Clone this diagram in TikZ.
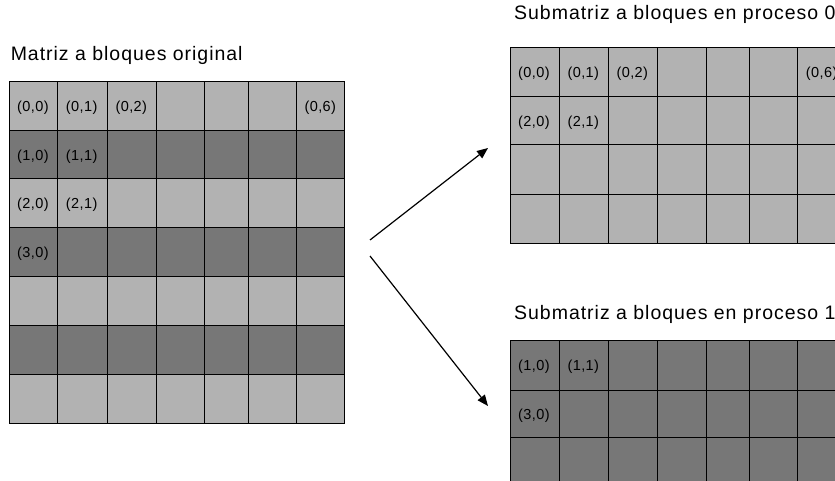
\documentclass[tikz,border=0pt]{standalone}
\usepackage{fontspec}
\setmainfont{Liberation Sans}
\newfontfamily\titlefont[LetterSpace=5]{Liberation Sans}
\newfontfamily\cellfont[LetterSpace=3]{Liberation Sans}
\usetikzlibrary{arrows.meta}
\definecolor{blocklight}{RGB}{178,178,178}
\definecolor{blockdark}{RGB}{119,119,119}

\begin{document}
\begin{tikzpicture}[x=1pt,y=-1pt,
  title/.style={anchor=base west,inner sep=0pt,font=\titlefont\fontsize{19.5}{22}\selectfont},
  celltext/.style={anchor=base west,inner sep=0pt,font=\cellfont\fontsize{14.5}{16}\selectfont},
  gridline/.style={draw=black,line width=1pt},
  flow/.style={line width=1.2pt,-{Triangle[length=11pt,width=9pt]}}]
\useasboundingbox (0,0) rectangle (835,481);
\clip (0,0) rectangle (835,481);

% ---- original block matrix (7 x 7) ----
\node[title] (origtitle) at (10.6,60.5) {Matriz a bloques original};
\foreach \ya/\yb/\c in {81.7/130.3/blocklight, 130.3/179/blockdark,
    179/227.7/blocklight, 227.7/276.3/blockdark, 276.3/325/blocklight,
    325/374/blockdark, 374/423/blocklight}
  \foreach \xa/\xb in {9/57.7, 57.7/107.3, 107.3/156, 156/204.7,
      204.7/248, 248/296.3, 296.3/344.3}
    \filldraw[fill=\c, gridline] (\xa,\ya) rectangle (\xb,\yb);

\node[celltext] (o00) at (17,111.5) {(0,0)};
\node[celltext] (o01) at (65.7,111.5) {(0,1)};
\node[celltext] (o02) at (115.3,111.5) {(0,2)};
\node[celltext] (o06) at (304.3,111.5) {(0,6)};
\node[celltext] (o10) at (17,160.2) {(1,0)};
\node[celltext] (o11) at (65.7,160.2) {(1,1)};
\node[celltext] (o20) at (17,208.8) {(2,0)};
\node[celltext] (o21) at (65.7,208.8) {(2,1)};
\node[celltext] (o30) at (17,257.5) {(3,0)};

% ---- submatrix held by process 0 (even block rows) ----
\node[title] (p0title) at (514,20) {Submatriz a bloques en proceso 0};
\foreach \ya/\yb in {47.3/96.7, 96.7/145, 145/195, 195/243.3}
  \foreach \xa/\xb in {510/559.3, 559.3/608.3, 608.3/657.3, 657.3/706,
      706/749.3, 749.3/797.7, 797.7/846}
    \filldraw[fill=blocklight, gridline] (\xa,\ya) rectangle (\xb,\yb);

\node[celltext] (a00) at (518,77.5) {(0,0)};
\node[celltext] (a01) at (567.3,77.5) {(0,1)};
\node[celltext] (a02) at (616.3,77.5) {(0,2)};
\node[celltext] (a06) at (805.7,77.5) {(0,6)};
\node[celltext] (a20) at (518,126.4) {(2,0)};
\node[celltext] (a21) at (567.3,126.4) {(2,1)};

% ---- submatrix held by process 1 (odd block rows) ----
\node[title] (p1title) at (514,319) {Submatriz a bloques en proceso 1};
\foreach \ya/\yb in {340/390, 390/437.7, 437.7/487}
  \foreach \xa/\xb in {510/559.3, 559.3/608.3, 608.3/657.3, 657.3/706,
      706/749.3, 749.3/797.7, 797.7/846}
    \filldraw[fill=blockdark, gridline] (\xa,\ya) rectangle (\xb,\yb);

\node[celltext] (b10) at (518,370.5) {(1,0)};
\node[celltext] (b11) at (567.3,370.5) {(1,1)};
\node[celltext] (b30) at (518,419.4) {(3,0)};

% ---- distribution arrows ----
\coordinate (splitup) at (370,240);
\coordinate (splitdown) at (370,256);
\coordinate (toproc0) at (488,148);
\coordinate (toproc1) at (488,406);
\draw[flow] (splitup) -- (toproc0);
\draw[flow] (splitdown) -- (toproc1);
\end{tikzpicture}
\end{document}
